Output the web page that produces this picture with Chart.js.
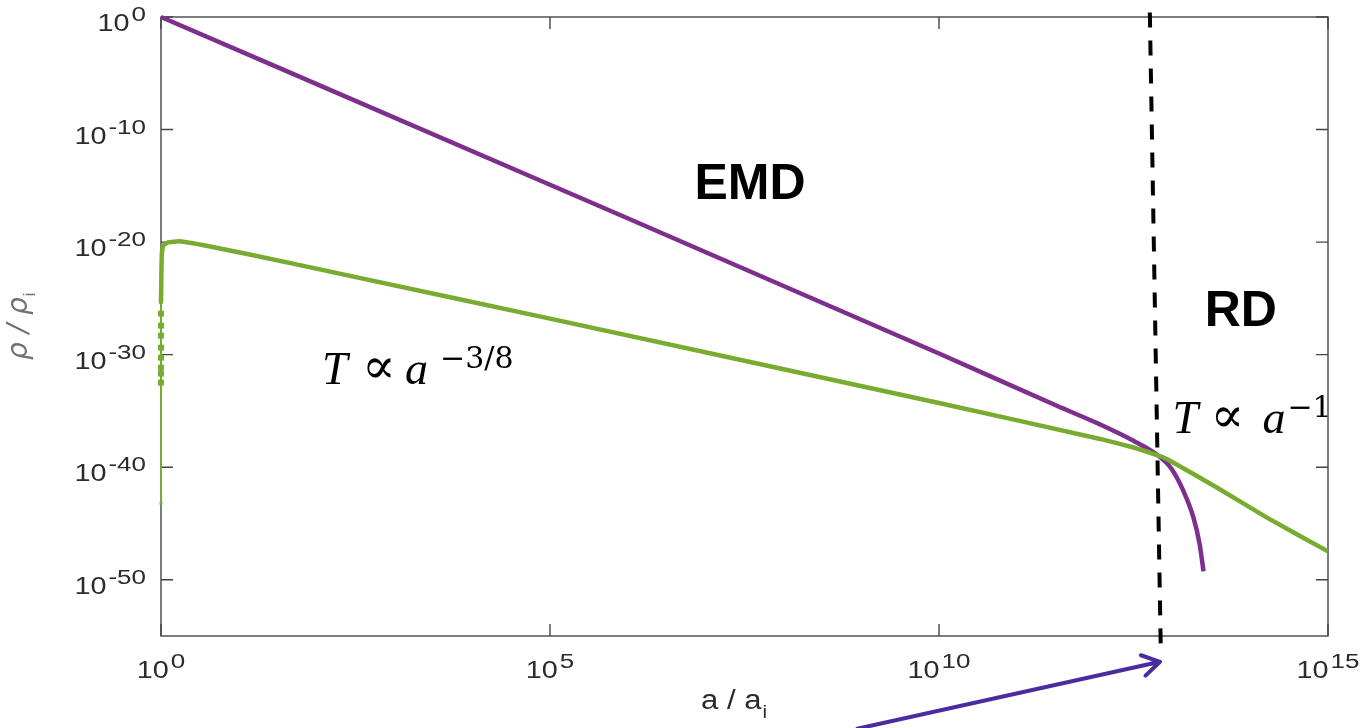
<!DOCTYPE html>
<html>
<head>
<meta charset="utf-8">
<script src="https://cdn.jsdelivr.net/npm/chart.js@4.4.1/dist/chart.umd.min.js"></script>
<style>
  html, body { margin: 0; padding: 0; background: #fff; }
  #wrap { width: 1365px; height: 728px; }
</style>
</head>
<body>
<div id="wrap"><canvas id="chart" width="1365" height="728"></canvas></div>
<script>
// values are log10 exponents
const emdLogA   = [0, 5, 10, 11.5, 12.07, 12.5, 12.82, 12.99, 13.14, 13.27, 13.35, 13.40];
const emdLogRho = [0, -14.9, -29.9, -34.5, -36.2, -37.65, -38.98, -40.16, -42.09, -44.46, -46.83, -49.26];

const radLogA   = [0, 0, 0, 0, 0, 0, 0, 0, 0, 0, 0.005, 0.012, 0.03, 0.09, 0.24, 0.6, 1.14, 2.43, 5.0, 10.0, 12.07, 12.5, 12.82, 12.97, 13.57, 14.21, 15.0];
const radLogRho = [-43.2, -32.49, -31.69, -31.16, -30.27, -29.38, -28.31, -27.42, -26.36, -25.47, -22.8, -20.9, -20.3, -20.02, -19.93, -20.35, -21.1, -23.0, -26.8, -34.3, -37.49, -38.25, -38.98, -39.42, -41.8, -44.46, -47.48];

// vertical dashed marker (end of EMD)
const markLogA   = [12.71, 12.85];
const markLogRho = [0.4, -55.9];

const xTickExp = [0, 5, 10, 15];
const yTickExp = [0, -10, -20, -30, -40, -50];

const purple = '#7e2f8e';
const green = '#77ac30';
const ink = '#2b2b2b';

const toPts = (lx, ly) => lx.map((v, i) => ({ x: 10 ** v, y: 10 ** ly[i] }));

// annotation anchors, in log10 data units
const notes = {
  emd: { a: 7.57, r: -16.13 },
  rd: { a: 13.88, r: -27.42 },
  tEmd: { a: 2.07, r: -32.58 },
  tRd: { a: 13.0, r: -36.93 },
  arrowTail: { a: 8.95, r: -63.24 },
  arrowHead: { a: 12.84, r: -57.29 }
};

const tickFont = '"Liberation Sans", Arial, sans-serif';

function powLabel(ctx, base, exp, px, py, align) {
  const sb = 1.2, se = 1.3;
  ctx.font = '24px ' + tickFont;
  const wb = ctx.measureText(base).width * sb;
  ctx.font = '20px ' + tickFont;
  const we = ctx.measureText(exp).width * se;
  const gap = 2;
  const total = wb + gap + we;
  const left = align === 'right' ? px - total : px - total / 2;
  ctx.save();
  ctx.textAlign = 'left';
  ctx.textBaseline = 'alphabetic';
  ctx.save();
  ctx.translate(left, py);
  ctx.scale(sb, 1);
  ctx.font = '24px ' + tickFont;
  ctx.fillText(base, 0, 0);
  ctx.restore();
  ctx.translate(left + wb + gap, py - 10);
  ctx.scale(se, 1);
  ctx.font = '20px ' + tickFont;
  ctx.fillText(exp, 0, 0);
  ctx.restore();
}

function mathLabel(ctx, px, py, sup, offs) {
  ctx.save();
  ctx.fillStyle = '#000';
  ctx.textAlign = 'left';
  ctx.textBaseline = 'alphabetic';
  ctx.font = 'italic 46px "Liberation Serif", serif';
  ctx.fillText('T', px, py);
  ctx.font = '50px "DejaVu Serif", serif';
  ctx.fillText('\u221D', px + offs[0], py - 1);
  ctx.font = 'italic 46px "Liberation Serif", serif';
  ctx.fillText('a', px + offs[1], py);
  ctx.font = '30px "DejaVu Serif", serif';
  ctx.fillText(sup, px + offs[2], py - 16);
  ctx.restore();
}

const frame = {
  id: 'frame',
  beforeDatasetsDraw(chart) {
    const { ctx, chartArea: a, scales: { x, y } } = chart;
    ctx.save();
    ctx.strokeStyle = '#454545';
    ctx.lineWidth = 1.4;
    ctx.strokeRect(a.left, a.top, a.right - a.left, a.bottom - a.top);
    ctx.beginPath();
    xTickExp.forEach(e => {
      const px = x.getPixelForValue(10 ** e);
      ctx.moveTo(px, a.bottom); ctx.lineTo(px, a.bottom - 12);
      ctx.moveTo(px, a.top); ctx.lineTo(px, a.top + 12);
    });
    yTickExp.forEach(e => {
      const py = y.getPixelForValue(10 ** e);
      ctx.moveTo(a.left, py); ctx.lineTo(a.left + 12, py);
      ctx.moveTo(a.right, py); ctx.lineTo(a.right - 12, py);
    });
    ctx.stroke();

    ctx.fillStyle = ink;
    xTickExp.forEach(e => {
      powLabel(ctx, '10', String(e), x.getPixelForValue(10 ** e), a.bottom + 42, 'center');
    });
    yTickExp.forEach(e => {
      powLabel(ctx, '10', String(e), a.left - 15, y.getPixelForValue(10 ** e) + 14, 'right');
    });

    // x axis title
    ctx.save();
    ctx.translate(701, 709);
    ctx.scale(1.15, 1);
    ctx.font = '27px ' + tickFont;
    ctx.textAlign = 'left';
    ctx.fillText('a / a', 0, 0);
    const w = ctx.measureText('a / a').width;
    ctx.font = '18px ' + tickFont;
    ctx.fillText('i', w + 1, 9);
    ctx.restore();

    // y axis title
    ctx.save();
    ctx.translate(27, 360);
    ctx.rotate(-Math.PI / 2);
    ctx.fillStyle = '#707070';
    ctx.font = 'italic 28px "DejaVu Sans", sans-serif';
    ctx.textAlign = 'left';
    ctx.fillText('\u03C1 / \u03C1', 0, 0);
    const wy = ctx.measureText('\u03C1 / \u03C1').width;
    ctx.font = '16px ' + tickFont;
    ctx.fillText('i', wy + 1, 8);
    ctx.restore();
    ctx.restore();
  },
  afterDatasetsDraw(chart) {
    const { ctx, scales: { x, y } } = chart;
    const px = n => x.getPixelForValue(10 ** n.a);
    const py = n => y.getPixelForValue(10 ** n.r);
    ctx.save();
    ctx.fillStyle = '#000';
    ctx.textAlign = 'center';
    ctx.textBaseline = 'alphabetic';
    ctx.font = 'bold 50px "Liberation Sans", Arial, sans-serif';
    ctx.fillText('EMD', px(notes.emd), py(notes.emd));
    ctx.fillText('RD', px(notes.rd), py(notes.rd));
    mathLabel(ctx, px(notes.tEmd), py(notes.tEmd), '\u22123/8', [40, 83, 118]);
    mathLabel(ctx, px(notes.tRd), py(notes.tRd), '\u22121', [38, 90, 115]);

    // arrow pointing at the transition
    const x0 = px(notes.arrowTail), y0 = py(notes.arrowTail);
    const x1 = px(notes.arrowHead), y1 = py(notes.arrowHead);
    const ang = Math.atan2(y1 - y0, x1 - x0);
    ctx.strokeStyle = '#4a2ba0';
    ctx.lineWidth = 4;
    ctx.lineCap = 'round';
    ctx.lineJoin = 'round';
    ctx.beginPath();
    ctx.moveTo(x0, y0);
    ctx.lineTo(x1, y1);
    ctx.moveTo(x1 - 20 * Math.cos(ang - 0.55), y1 - 20 * Math.sin(ang - 0.55));
    ctx.lineTo(x1, y1);
    ctx.lineTo(x1 - 20 * Math.cos(ang + 0.55), y1 - 20 * Math.sin(ang + 0.55));
    ctx.stroke();
    ctx.restore();
  }
};

new Chart(document.getElementById('chart'), {
  type: 'scatter',
  data: {
    datasets: [
      {
        label: 'rad',
        data: toPts(radLogA, radLogRho),
        showLine: true,
        borderColor: green,
        backgroundColor: green,
        borderWidth: 4.5,
        tension: 0.1,
        clip: 6,
        pointStyle: 'rect',
        pointBorderWidth: 0,
        pointRadius: radLogA.map((v, i) => (i === 0 ? 2 : i < 9 ? 4.2 : 0)),
        segment: {
          borderWidth: c => (c.p0DataIndex < 9 ? 2 : 4.5)
        }
      },
      {
        label: 'emd',
        data: toPts(emdLogA, emdLogRho),
        showLine: true,
        borderColor: purple,
        borderWidth: 4.5,
        cubicInterpolationMode: 'monotone',
        clip: 6,
        pointRadius: 0
      },
      {
        label: 'mark',
        data: toPts(markLogA, markLogRho),
        showLine: true,
        borderColor: '#000',
        borderWidth: 4,
        borderDash: [15, 13],
        borderCapStyle: 'butt',
        tension: 0,
        clip: false,
        pointRadius: 0
      }
    ]
  },
  options: {
    responsive: false,
    animation: false,
    layout: { padding: { left: 161, right: 37, top: 17, bottom: 92 } },
    plugins: { legend: { display: false }, tooltip: { enabled: false } },
    scales: {
      x: { type: 'logarithmic', min: 1, max: 1e15, display: false },
      y: { type: 'logarithmic', min: 1e-55, max: 1, display: false }
    }
  },
  plugins: [frame]
});
</script>
</body>
</html>
